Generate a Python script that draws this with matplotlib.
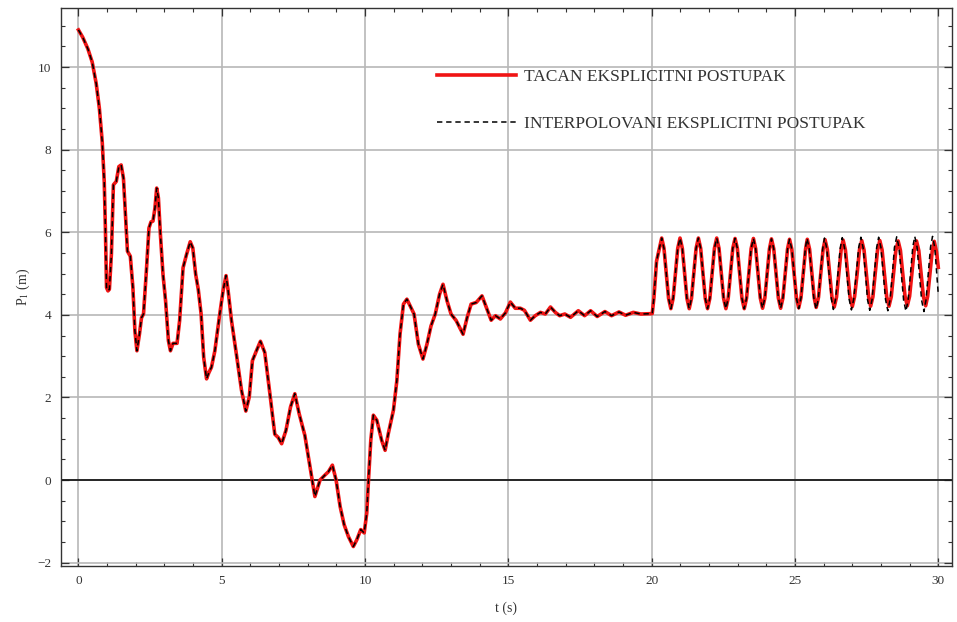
import numpy as np
import matplotlib
matplotlib.use("Agg")
import matplotlib.pyplot as plt
from matplotlib.ticker import MultipleLocator

# Response common to both procedures (t <= 24.81 s)
t_common = [
    0.00, 0.15, 0.33, 0.48, 0.62, 0.73, 0.83, 0.90, 0.94, 0.98, 1.03, 1.08, 1.15, 1.22, 1.32, 1.41,
    1.49, 1.57, 1.64, 1.71, 1.81, 1.90, 1.97, 2.04, 2.13, 2.20, 2.27, 2.37, 2.46, 2.53, 2.60, 2.67,
    2.73, 2.79, 2.86, 2.95, 3.04, 3.14, 3.21, 3.30, 3.44, 3.53, 3.65, 3.77, 3.90, 3.99, 4.09, 4.18,
    4.28, 4.37, 4.47, 4.55, 4.64, 4.76, 4.93, 5.05, 5.15, 5.22, 5.34, 5.51, 5.69, 5.84, 5.96, 6.07,
    6.21, 6.35, 6.50, 6.68, 6.85, 6.97, 7.09, 7.24, 7.40, 7.55, 7.70, 7.90, 8.08, 8.25, 8.43, 8.60,
    8.72, 8.86, 8.99, 9.13, 9.27, 9.42, 9.59, 9.71, 9.85, 9.97, 10.06, 10.12, 10.20, 10.29, 10.41,
    10.58, 10.70, 10.81, 10.99, 11.11, 11.22, 11.34, 11.46, 11.60, 11.71, 11.86, 12.02, 12.16,
    12.30, 12.45, 12.60, 12.72, 12.86, 13.00, 13.18, 13.42, 13.56, 13.70, 13.88, 14.08, 14.23,
    14.40, 14.55, 14.72, 14.90, 15.07, 15.24, 15.42, 15.56, 15.77, 15.94, 16.12, 16.29, 16.47,
    16.64, 16.79, 16.97, 17.17, 17.44, 17.66, 17.87, 18.10, 18.37, 18.60, 18.86, 19.09, 19.36,
    19.62, 20.02, 20.08, 20.17,
    20.35, 20.43, 20.51, 20.59, 20.67, 20.75, 20.83, 20.91,
    20.99, 21.07, 21.15, 21.23, 21.31, 21.39, 21.47, 21.55,
    21.63, 21.71, 21.79, 21.87, 21.95, 22.03, 22.11, 22.19,
    22.27, 22.35, 22.43, 22.51, 22.59, 22.67, 22.75, 22.83,
    22.91, 22.99, 23.07, 23.15, 23.23, 23.31, 23.39, 23.47,
    23.55, 23.63, 23.71, 23.79, 23.87, 23.95, 24.03, 24.11,
    24.18, 24.26, 24.34, 24.42, 24.50, 24.58, 24.66, 24.74,
    24.81,
]
p_common = [
    10.90, 10.72, 10.44, 10.12, 9.60, 9.00, 8.19, 7.23, 6.10, 4.66, 4.58, 4.62, 5.47, 7.15, 7.23, 7.59,
    7.63, 7.31, 6.43, 5.54, 5.42, 4.66, 3.61, 3.13, 3.54, 3.93, 4.02, 5.06, 6.10, 6.25, 6.27, 6.59,
    7.07, 6.83, 5.94, 4.98, 4.34, 3.37, 3.13, 3.31, 3.31, 3.86, 5.14, 5.46, 5.77, 5.62, 4.98, 4.62,
    4.02, 2.97, 2.45, 2.60, 2.73, 3.13, 4.02, 4.60, 4.95, 4.60, 3.86, 3.05, 2.17, 1.67, 2.01, 2.89,
    3.13, 3.36, 3.09, 2.09, 1.11, 1.03, 0.88, 1.20, 1.77, 2.09, 1.61, 1.08, 0.32, -0.40, 0.00, 0.12,
    0.20, 0.36, 0.00, -0.64, -1.08, -1.37, -1.61, -1.45, -1.20, -1.28, -0.80, 0.00, 0.96, 1.57, 1.45,
    0.96, 0.72, 1.12, 1.69, 2.41, 3.53, 4.26, 4.38, 4.18, 4.02, 3.29, 2.93, 3.29,
    3.73, 4.02, 4.50, 4.74, 4.34, 4.02, 3.86, 3.53, 3.93, 4.26, 4.30, 4.46, 4.18,
    3.87, 3.98, 3.90, 4.05, 4.31, 4.16, 4.16, 4.11, 3.87, 3.98, 4.06, 4.02, 4.19,
    4.06, 3.98, 4.02, 3.94, 4.10, 3.98, 4.10, 3.96, 4.08, 3.98, 4.07, 3.99, 4.06,
    4.02, 4.03, 4.42, 5.30,
    5.86, 5.61, 5.01, 4.40, 4.15, 4.40, 5.01, 5.61,
    5.86, 5.61, 5.01, 4.40, 4.15, 4.40, 5.01, 5.61,
    5.86, 5.61, 5.01, 4.40, 4.15, 4.40, 5.01, 5.61,
    5.86, 5.61, 5.01, 4.40, 4.15, 4.40, 5.01, 5.61,
    5.85, 5.61, 5.00, 4.40, 4.15, 4.40, 5.00, 5.60,
    5.85, 5.60, 5.00, 4.41, 4.16, 4.41, 5.00, 5.60,
    5.84, 5.60, 5.00, 4.41, 4.16, 4.41, 5.00, 5.59,
    5.83,
]

# Exact explicit procedure, t > 24.81 s
t_exact_tail = [
    24.89, 24.97, 25.05, 25.13, 25.21, 25.29, 25.37,
    25.43, 25.51, 25.59, 25.67, 25.74, 25.82, 25.90, 25.98,
    26.05, 26.13, 26.21, 26.29, 26.37, 26.45, 26.53, 26.61,
    26.68, 26.76, 26.84, 26.92, 27.00, 27.08, 27.17, 27.25,
    27.33, 27.41, 27.49, 27.57, 27.64, 27.72, 27.80, 27.88,
    27.96, 28.04, 28.12, 28.20, 28.28, 28.36, 28.44, 28.52,
    28.60, 28.68, 28.76, 28.84, 28.92, 29.00, 29.08, 29.16,
    29.24, 29.32, 29.40, 29.48, 29.56, 29.63, 29.71, 29.79,
    29.86, 29.94, 30.00,
]
p_exact_tail = [
    5.59, 5.00, 4.42, 4.17, 4.42, 5.00, 5.59,
    5.83, 5.59, 5.01, 4.42, 4.18, 4.42, 5.00, 5.58,
    5.82, 5.58, 5.01, 4.43, 4.19, 4.43, 5.00, 5.57,
    5.81, 5.57, 5.01, 4.44, 4.20, 4.44, 5.00, 5.57,
    5.80, 5.57, 5.01, 4.44, 4.21, 4.44, 5.00, 5.56,
    5.80, 5.57, 5.01, 4.44, 4.21, 4.44, 5.00, 5.56,
    5.79, 5.56, 5.01, 4.45, 4.22, 4.45, 5.00, 5.56,
    5.79, 5.56, 5.01, 4.45, 4.22, 4.45, 5.00, 5.55,
    5.78, 5.52, 5.15,
]

# Interpolated explicit procedure, t > 24.81 s
t_interp_tail = [
    24.89, 24.97, 25.05, 25.13, 25.21, 25.29, 25.36,
    25.42, 25.50, 25.58, 25.66, 25.74, 25.82, 25.89, 25.97,
    26.03, 26.11, 26.19, 26.27, 26.34, 26.42, 26.50, 26.58,
    26.65, 26.73, 26.81, 26.89, 26.97, 27.05, 27.14, 27.22,
    27.30, 27.38, 27.46, 27.53, 27.61, 27.69, 27.77, 27.85,
    27.92, 28.00, 28.08, 28.16, 28.24, 28.32, 28.40, 28.47,
    28.55, 28.63, 28.71, 28.79, 28.87, 28.95, 29.03, 29.11,
    29.18, 29.26, 29.34, 29.42, 29.50, 29.57, 29.65, 29.73,
    29.80, 29.88, 30.00,
]
p_interp_tail = [
    5.59, 5.00, 4.41, 4.15, 4.41, 5.00, 5.60,
    5.85, 5.60, 5.00, 4.40, 4.14, 4.40, 5.00, 5.61,
    5.86, 5.61, 5.00, 4.39, 4.13, 4.39, 5.00, 5.62,
    5.87, 5.62, 5.00, 4.38, 4.12, 4.38, 5.00, 5.62,
    5.88, 5.62, 5.00, 4.37, 4.11, 4.37, 5.00, 5.63,
    5.88, 5.63, 5.00, 4.37, 4.10, 4.37, 5.00, 5.63,
    5.89, 5.63, 5.00, 4.36, 4.09, 4.36, 5.00, 5.64,
    5.90, 5.64, 5.00, 4.35, 4.08, 4.35, 5.00, 5.64,
    5.90, 5.62, 4.50,
]

x_ticks = [0, 5, 10, 15, 20, 25, 30]
y_ticks = [-2, 0, 2, 4, 6, 8, 10]
labels = ["TACAN EKSPLICITNI POSTUPAK", "INTERPOLOVANI EKSPLICITNI POSTUPAK"]

t_exact = np.array(t_common + t_exact_tail)
p_exact = np.array(p_common + p_exact_tail)
t_interp = np.array(t_common + t_interp_tail)
p_interp = np.array(p_common + p_interp_tail)

plt.rcParams["font.family"] = ["Liberation Serif", "DejaVu Serif"]
plt.rcParams["mathtext.fontset"] = "stix"

fig = plt.figure(figsize=(9.57, 6.22), dpi=100)
ax = fig.add_axes([0.0637, 0.0908, 0.9311, 0.8963])

ax.set_xlim(-0.61, 30.48)
ax.set_ylim(-2.07, 11.43)

ax.set_xticks(x_ticks)
ax.set_yticks(y_ticks)
ax.xaxis.set_minor_locator(MultipleLocator(1))
ax.yaxis.set_minor_locator(MultipleLocator(0.5))
ax.set_yticklabels(["\u22122" if v < 0 else str(v) for v in y_ticks])

ax.grid(True, which="major", color="#b8b8b8", linewidth=1.2, zorder=0)
ax.axhline(0, color="#1a1a1a", linewidth=1.3, zorder=2)

ax.plot(t_exact, p_exact, color="#f01414", linewidth=2.6, solid_joinstyle="round",
        label=labels[0], zorder=3)
ax.plot(t_interp, p_interp, color="black", linewidth=1.1, linestyle=(0, (3.5, 2.5)),
        label=labels[1], zorder=4)

for side in ax.spines.values():
    side.set_color("#333333")
    side.set_linewidth(1.0)

ax.tick_params(which="both", direction="in", top=True, right=True,
               colors="#333333", labelsize=9.5)
ax.tick_params(which="major", length=5.5, width=0.9, pad=7)
ax.tick_params(which="minor", length=3, width=0.8)

ax.set_xlabel("t (s)", fontsize=10, color="#333333", labelpad=10)
ax.set_ylabel("P$_1$ (m)", fontsize=10, color="#333333", labelpad=4)

leg = ax.legend(loc="upper left", bbox_to_anchor=(0.4215, 0.8915), frameon=False,
                borderpad=0, handlelength=4.6, handletextpad=0.45, labelspacing=1.82,
                fontsize=12.5, borderaxespad=0)
for txt in leg.get_texts():
    txt.set_color("#333333")

fig.savefig("out.png", dpi=100)
